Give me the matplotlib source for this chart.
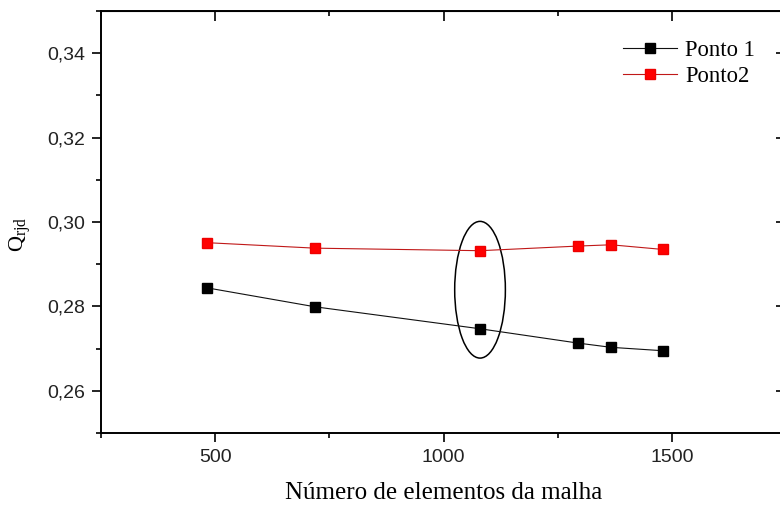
import numpy as np
import matplotlib
matplotlib.use("Agg")
import matplotlib.pyplot as plt
from matplotlib.patches import Ellipse
from matplotlib.ticker import MultipleLocator, FuncFormatter, NullFormatter

# Malha: numero de elementos e Q_rjd em cada ponto
elementos = [482, 719, 1080, 1295, 1367, 1480]
ponto1 = [0.2844, 0.2799, 0.2747, 0.2713, 0.2703, 0.2695]
ponto2 = [0.2951, 0.2938, 0.2932, 0.2943, 0.2946, 0.2935]
i_destaque = 2  # malha escolhida (marcada com a elipse)

plt.rcParams['mathtext.fontset'] = 'custom'
plt.rcParams['mathtext.rm'] = 'Liberation Serif'
plt.rcParams['mathtext.it'] = 'Liberation Serif'

fig = plt.figure(figsize=(7.8, 5.09), dpi=100)
ax = fig.add_axes([101/780, 76/509, 685/780, 422/509])

ax.plot(elementos, ponto1, color='#111111', lw=0.8, marker='s', ms=6.6,
        mfc='black', mec='black', label='Ponto 1')
ax.plot(elementos, ponto2, color='#c01818', lw=0.8, marker='s', ms=6.6,
        mfc='#ff0000', mec='#ee0000', label='Ponto2')

# elipse em volta da malha escolhida
xc = elementos[i_destaque]
yc = (ponto1[i_destaque] + ponto2[i_destaque]) / 2
ax.add_patch(Ellipse((xc, yc), 111, 0.0324, fill=False, ec='black', lw=1.1))

ax.set_xlim(250, 1750)
ax.set_ylim(0.25, 0.35)
ax.xaxis.set_major_locator(MultipleLocator(500))
ax.xaxis.set_minor_locator(MultipleLocator(250))
ax.yaxis.set_major_locator(MultipleLocator(0.02))
ax.yaxis.set_minor_locator(MultipleLocator(0.01))
ax.yaxis.set_major_formatter(FuncFormatter(lambda v, p: f'{v:.2f}'.replace('.', ',')))
ax.xaxis.set_major_formatter(FuncFormatter(lambda v, p: '' if v < 500 or v > 1500 else f'{v:.0f}'))

for s in ax.spines.values():
    s.set_linewidth(1.4)
ax.tick_params(which='both', width=1.2, labelsize=14, labelcolor='#222222',
               labelfontfamily='Liberation Sans', direction='out')
ax.tick_params(which='major', length=6.5, pad=5)
ax.tick_params(which='minor', length=3.5)

# ticks do topo e da direita, voltados para dentro
topo = ax.secondary_xaxis('top')
dir_ = ax.secondary_yaxis('right')
for eixo, loc in ((topo.xaxis, 500), (dir_.yaxis, 0.02)):
    eixo.set_major_locator(MultipleLocator(loc))
    eixo.set_minor_locator(MultipleLocator(loc / 2))
    eixo.set_major_formatter(NullFormatter())
for sec in (topo, dir_):
    sec.tick_params(which='both', direction='in', width=1.2)
    sec.tick_params(which='major', length=7)
    sec.tick_params(which='minor', length=3.5)

ax.set_xlabel('Número de elementos da malha', family='Liberation Serif', fontsize=18)
ax.xaxis.set_label_coords(0.5, -0.115)
ax.set_ylabel(r'Q$_{\mathregular{rjd}}$', family='Liberation Serif', fontsize=16)
ax.yaxis.set_label_coords(-0.099, 0.47)

leg = ax.legend(loc='upper left', bbox_to_anchor=(623/780, 1 - 40/509),
                bbox_transform=fig.transFigure, frameon=False,
                prop={'family': 'Liberation Serif', 'size': 16.3},
                handlelength=2.4, handletextpad=0.35, labelspacing=0.2,
                borderpad=0, borderaxespad=0)

fig.savefig('out.png', dpi=100)
